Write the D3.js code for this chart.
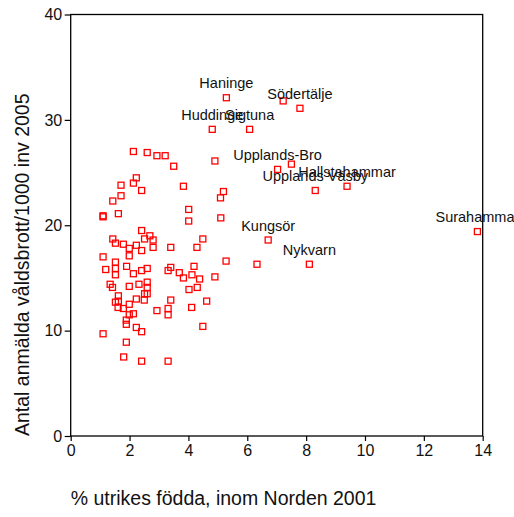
<!DOCTYPE html>
<html>
<head>
<meta charset="utf-8">
<script src="https://cdn.jsdelivr.net/npm/d3@7"></script>
<style>
  html, body { margin: 0; padding: 0; background: #fff; }
  svg { display: block; }
  text { font-family: Arial, "Liberation Sans", sans-serif; fill: #111; }
</style>
</head>
<body>
<svg id="chart" width="514" height="517"></svg>
<script>
// % foreign-born (Nordic) 2001
const xValues = [5.29,7.22,7.79,4.81,6.08,2.13,2.60,2.93,3.21,4.90,
  3.50,7.03,7.50,2.23,1.71,2.13,2.41,3.83,5.19,8.31,
  9.39,1.71,5.09,1.43,4.01,1.62,1.10,1.10,4.01,5.10,
  13.82,2.41,1.43,1.52,2.51,2.69,2.80,2.80,1.79,1.99,
  2.23,2.41,1.99,3.40,4.29,4.49,6.71,1.10,1.52,1.52,
  1.52,1.19,1.90,2.13,2.41,2.60,3.40,3.31,3.69,3.83,
  4.12,4.19,4.38,5.28,6.33,8.11,4.90,1.34,1.42,1.99,
  2.32,2.60,2.60,4.02,4.30,2.51,2.60,1.62,2.23,3.40,
  1.52,1.62,1.61,1.79,1.99,2.50,2.13,1.99,2.93,3.31,
  3.31,4.11,4.62,4.49,1.89,1.89,2.23,2.41,1.10,1.89,
  1.80,2.41,3.31];
// reported violent crimes per 1000 inhabitants 2005
const yValues = [32.1,31.8,31.1,29.1,29.1,27.0,26.9,26.6,26.6,26.1,
  25.6,25.3,25.8,24.5,23.8,24.0,23.3,23.7,23.2,23.3,
  23.7,22.8,22.6,22.3,21.5,21.1,20.9,20.8,20.4,20.7,
  19.4,19.5,18.7,18.3,18.7,19.0,18.6,17.9,18.2,17.8,
  18.1,17.6,17.1,17.9,17.9,18.7,18.6,17.0,16.5,15.9,
  15.3,15.8,16.1,15.4,15.7,15.9,16.0,15.7,15.5,15.0,
  15.3,16.1,14.9,16.6,16.3,16.3,15.1,14.4,14.1,14.2,
  14.4,14.6,14.1,13.9,14.1,13.5,13.5,13.3,13.0,12.9,
  12.7,12.8,12.2,12.1,12.5,12.9,11.6,11.5,11.9,12.1,
  11.5,12.2,12.8,10.4,11.0,10.6,10.3,9.9,9.7,8.9,
  7.5,7.1,7.1];
// point labels (empty = unlabeled)
const pointLabels = ["Haninge","","Södertälje","Huddinge","Sigtuna","","","","","",
  "","Upplands-Bro","","","","","","","","Upplands Väsby",
  "Hallstahammar","","","","","","","","","",
  "Surahammar","","","","","","","","","",
  "","","","","","","Kungsör","","","",
  "","","","","","","","","","",
  "","","","","","Nykvarn"];
const xTicks = [0,2,4,6,8,10,12,14];
const yTicks = [0,10,20,30,40];
const xTitle = "% utrikes födda, inom Norden 2001";
const yTitle = "Antal anmälda våldsbrott/1000 inv 2005";

const svg = d3.select("#chart");
const plotLeft = 70.7, plotRight = 482.7, plotTop = 14.5, plotBottom = 436;

const x = d3.scaleLinear().domain([0, 14]).range([plotLeft, plotRight]);
const y = d3.scaleLinear().domain([0, 40]).range([plotBottom, plotTop]);

const data = xValues.map((v, i) => ({x: v, y: yValues[i], label: pointLabels[i] || ""}));

// points
svg.append("g").selectAll("rect").data(data).join("rect")
  .attr("x", d => x(d.x) - 3)
  .attr("y", d => y(d.y) - 3)
  .attr("width", 6).attr("height", 6)
  .attr("fill", "none").attr("stroke", "#ff0000").attr("stroke-width", 1.3);

// labels
svg.append("g").selectAll("text").data(data.filter(d => d.label)).join("text")
  .attr("x", d => x(d.x))
  .attr("y", d => y(d.y) - 9.5)
  .attr("text-anchor", "middle")
  .attr("font-size", 14.5)
  .text(d => d.label);

// axes
const xAxis = d3.axisBottom(x).tickValues(xTicks).tickSize(5).tickPadding(4).tickFormat(d3.format("d"));
const yAxis = d3.axisLeft(y).tickValues(yTicks).tickSize(6).tickPadding(2.5).tickFormat(d3.format("d"));

const gx = svg.append("g").attr("transform", `translate(0,${plotBottom})`).call(xAxis);
const gy = svg.append("g").attr("transform", `translate(${plotLeft},0)`).call(yAxis);
[gx, gy].forEach(g => {
  g.select(".domain").remove();
  g.selectAll(".tick line").attr("stroke", "#000").attr("stroke-width", 1.2);
  g.selectAll(".tick text").attr("font-size", 16).attr("fill", "#111")
    .style("font-family", "Arial, 'Liberation Sans', sans-serif");
});

// frame
svg.append("rect")
  .attr("x", plotLeft).attr("y", plotTop)
  .attr("width", plotRight - plotLeft).attr("height", plotBottom - plotTop)
  .attr("fill", "none").attr("stroke", "#000").attr("stroke-width", 1.3);

// titles
svg.append("text")
  .attr("x", plotLeft).attr("y", 505)
  .attr("font-size", 19.5)
  .text(xTitle);

svg.append("text")
  .attr("transform", `translate(29,${plotBottom}) rotate(-90)`)
  .attr("text-anchor", "start")
  .attr("font-size", 19.5)
  .text(yTitle);
</script>
</body>
</html>
